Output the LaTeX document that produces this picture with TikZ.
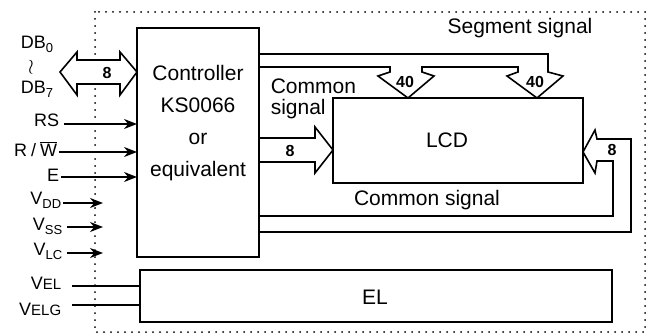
\documentclass[tikz,border=0pt]{standalone}
\usepackage{fontspec}
\setmainfont{Liberation Sans}
\usetikzlibrary{calc, arrows.meta}
\newcommand{\dsub}[1]{\raisebox{-4pt}{\fontsize{13}{13}\selectfont #1}}

\begin{document}
\begin{tikzpicture}[x=1pt, y=-1pt, every path/.style={line width=1.6pt}, box/.style={draw, rectangle, inner sep=0pt, outer sep=0pt}, txt/.style={font=\fontsize{21}{32}\selectfont, inner sep=0pt}, lead/.style={font=\fontsize{18}{18}\selectfont, inner sep=1pt, anchor=east}, num/.style={font=\fontsize{16}{16}\selectfont\bfseries, inner sep=0pt}, bus/.style={draw, line join=miter}, sig/.style={-{Stealth[length=13pt, width=10pt]}}, outline/.style={line width=2pt, line cap=round, dash pattern=on 0pt off 7pt}]
			\useasboundingbox (0,0) rectangle (647,334);
			\draw[outline] (95,12) rectangle (645,332);
			\node[box, minimum width=122pt, minimum height=229pt] (ctrl) at (198,142.5) {};
			\node[box, minimum width=250pt, minimum height=85pt] (lcd) at (458,140.5) {};
			\node[box, minimum width=472pt, minimum height=52pt] (el) at (376,296) {};
			\node[txt, align=center] (ctrltext) at (198,123) {Controller\\KS0066\\or\\equivalent};
			\node[txt] (lcdtext) at (447,140) {LCD};
			\node[txt] (eltext) at (375,297) {EL};
			\node[txt] (segtext) at (520,28) {Segment signal};
			\node[txt, font=\fontsize{21}{21}\selectfont, align=left, anchor=west] (comtext) at (270,99) {Common\\signal};
			\node[txt] (comtextb) at (427,200) {Common signal};
			\draw[bus, fill=white] (60,72) -- (77,52) -- (77,60) -- (120,60) -- (120,52) -- (ctrl.west |- 0,72) -- (120,95) -- (120,84) -- (77,84) -- (77,95) -- cycle;
			\draw[bus] (ctrl.east |- 0,54) -- (548,54) -- (548,72) -- (563,76) -- (lcd.north -| 537,0) -- (507,76) -- (518,72) -- (518,67) -- (422,67) -- (422,72) -- (434,76) -- (lcd.north -| 408,0) -- (378,76) -- (390,72) -- (390,67) -- (ctrl.east |- 0,67);
			\draw[bus] (ctrl.east |- 0,138) -- (315,138) -- (315,127) -- (lcd.west |- 0,150) -- (315,173) -- (315,162) -- (ctrl.east |- 0,162);
			\draw[bus] (ctrl.east |- 0,232) -- (631,232) -- (631,139) -- (597,139) -- (595,130) -- (lcd.east |- 0,152) -- (595,173) -- (597,161) -- (613,161) -- (613,216) -- (ctrl.east |- 0,216);
			\node[num] (dbnum) at (107,73) {8};
			\node[num] (comnum) at (290,151) {8};
			\node[num] (retnum) at (612,150) {8};
			\node[num] (segnuma) at (405,82) {40};
			\node[num] (segnumb) at (535,82) {40};
			\node[lead, anchor=center] (dbfirst) at (37,44) {DB\dsub{0}};
			\node[lead, anchor=center, inner sep=0pt, scale=1.2] (dbwave) at (31,67) {$\wr$};
			\node[lead, anchor=center] (dblast) at (37,89) {DB\dsub{7}};
			\node[lead] (rs) at (61,120) {RS};
			\node[lead] (rw) at (59,149) {R\hspace{4pt}/\hspace{4pt}$\overline{\mbox{W}}$};
			\node[lead] (en) at (61,175) {E};
			\node[lead] (vdd) at (63,200) {V\dsub{DD}};
			\node[lead] (vss) at (64,226) {V\dsub{SS}};
			\node[lead] (vlc) at (64,251) {V\dsub{LC}};
			\node[lead] (vel) at (63,283) {V{\fontsize{15}{15}\selectfont EL}};
			\node[lead] (velg) at (63,309) {V{\fontsize{15}{15}\selectfont ELG}};
			\coordinate (vtip) at (103,0);
			\draw[sig] (rs.east |- 0,124) ++(3,0) -- (ctrl.west |- 0,124);
			\draw[sig] (rw.east |- 0,152) -- (ctrl.west |- 0,152);
			\draw[sig] (en.east |- 0,177) -- (ctrl.west |- 0,177);
			\draw[sig] (vdd.east |- 0,203) -- (vtip |- 0,203);
			\draw[sig] (vss.east |- 0,227) ++(3,0) -- (vtip |- 0,227);
			\draw[sig] (vlc.east |- 0,253) ++(3,0) -- (vtip |- 0,253);
			\draw (vel.east |- 0,286) ++(9,0) -- (el.west |- 0,286);
			\draw (velg.east |- 0,305) ++(9,0) -- (el.west |- 0,305);
		\end{tikzpicture}
\end{document}
